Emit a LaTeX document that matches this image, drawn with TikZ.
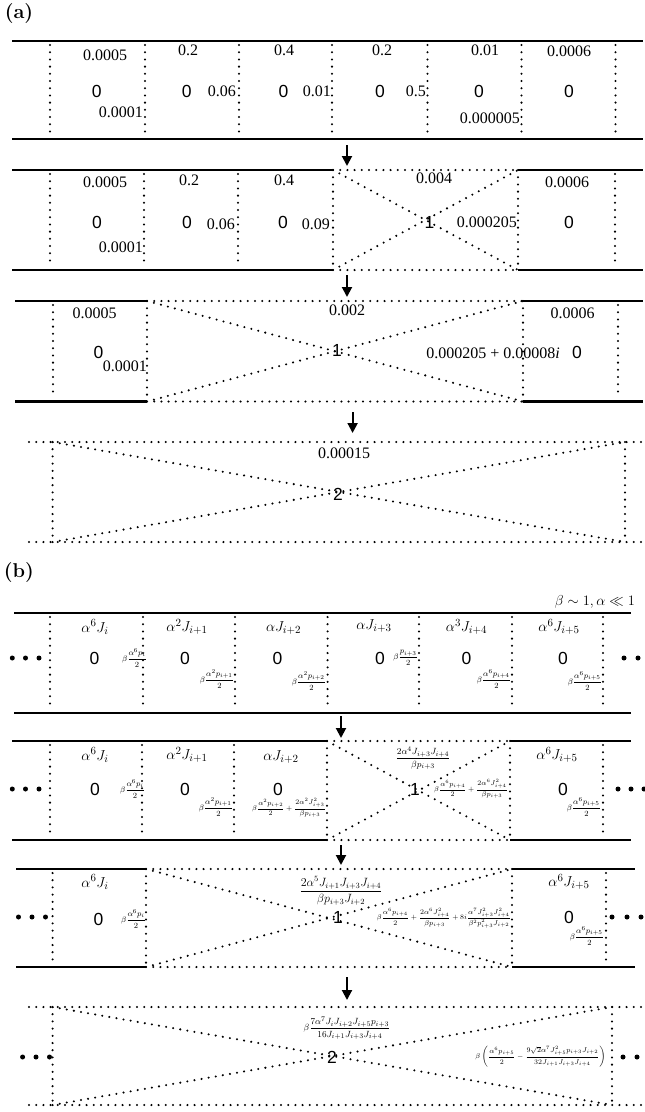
\documentclass[tikz,border=0pt]{standalone}
\usepackage{amsmath,amssymb}
\usepackage{fontspec}
\newfontfamily\tnr{Liberation Serif}
\newfontfamily\hv{Liberation Sans}
\usetikzlibrary{arrows.meta}
\newcommand{\btf}[1]{$\displaystyle\beta\frac{#1}{2}$}
\tikzset{
  thk/.style={line width=2.8pt},
  dotl/.style={line width=2.3pt, dash pattern=on 0pt off 7.2pt, line cap=round},
  num/.style={font=\tnr\fontsize{16}{18}\selectfont, inner sep=0pt},
  big/.style={font=\hv\fontsize{17.5}{19}\selectfont, inner sep=0pt},
  lab/.style={font=\fontsize{15.5}{18}\selectfont, inner sep=0pt},
  sm/.style={font=\fontsize{7}{8}\selectfont, inner sep=0pt},
  smb/.style={font=\fontsize{8.2}{9}\selectfont, inner sep=0pt},
  md/.style={font=\fontsize{9.5}{11}\selectfont, inner sep=0pt},
  lg/.style={font=\fontsize{12}{14}\selectfont, inner sep=0pt},
  arr/.style={line width=2pt, -{Triangle[length=10pt,width=10pt]}},
  ttl/.style={font=\fontsize{20}{22}\selectfont\bfseries, inner sep=0pt},
  dotc/.style={fill=black},
}
\begin{document}
\begin{tikzpicture}[x=1pt,y=-1pt]
\useasboundingbox (0,0) rectangle (645,1112);
\node[ttl] (la) at (19,14) {(a)};
% ---------- row a1
\draw[thk] (12,41) -- (643,41);
\draw[thk] (12,139) -- (643,139);
\foreach \x in {50,145,239,332,427.5,521.5,615.5} \draw[dotl] (\x,45) -- (\x,136);
\node[num] (a1t1) at (105,55) {0.0005};
\node[num] (a1t2) at (188,50) {0.2};
\node[num] (a1t3) at (284,50) {0.4};
\node[num] (a1t4) at (382,50) {0.2};
\node[num] (a1t5) at (485,50) {0.01};
\node[num] (a1t6) at (569,51) {0.0006};
\foreach \x [count=\k] in {96.7,186.7,283.6,380,479,569} \node[big] (a1z\k) at (\x,91) {0};
\node[num,anchor=east] (a1r1) at (236,91) {0.06};
\node[num,anchor=east] (a1r2) at (331,91) {0.01};
\node[num,anchor=east] (a1r3) at (426,91) {0.5};
\node[num,anchor=east] (a1b1) at (143,112) {0.0001};
\node[num,anchor=east] (a1b2) at (520,118) {0.000005};
\coordinate (ar1s) at (347,145); \coordinate (ar1e) at (347,166);
\draw[arr] (ar1s) -- (ar1e);
% ---------- row a2
\draw[thk] (12,170) -- (333,170); \draw[dotl] (333,170) -- (518,170); \draw[thk] (518,170) -- (643,170);
\draw[thk] (12,270) -- (333,270); \draw[dotl] (333,270) -- (518,270); \draw[thk] (518,270) -- (643,270);
\foreach \x in {50,144,238,615} \draw[dotl] (\x,174) -- (\x,266);
\draw[dotl] (333,170) -- (333,270); \draw[dotl] (518,170) -- (518,270);
\draw[dotl] (333,170) -- (518,270); \draw[dotl] (333,270) -- (518,170);
\node[num] (a2t1) at (105,182) {0.0005};
\node[num] (a2t2) at (189,180) {0.2};
\node[num] (a2t3) at (284,180) {0.4};
\node[num] (a2t4) at (434,178) {0.004};
\node[num] (a2t5) at (567,182) {0.0006};
\foreach \x [count=\k] in {97,187,283,569} \node[big] (a2z\k) at (\x,222) {0};
\node[big] (a2one) at (429.5,222) {1};
\node[num,anchor=east] (a2r1) at (235,224) {0.06};
\node[num,anchor=east] (a2r2) at (330,224) {0.09};
\node[num,anchor=east] (a2r3) at (517,222) {0.000205};
\node[num,anchor=east] (a2b1) at (143,247) {0.0001};
\coordinate (ar2s) at (347,275); \coordinate (ar2e) at (347,297);
\draw[arr] (ar2s) -- (ar2e);
% ---------- row a3
\draw[thk] (15,301) -- (147,301); \draw[dotl] (147,301) -- (523,301); \draw[thk] (523,301) -- (643,301);
\draw[thk] (15,401.5) -- (147,401.5); \draw[dotl] (147,401.5) -- (523,401.5); \draw[thk] (523,401.5) -- (643,401.5);
\foreach \x in {53,618} \draw[dotl] (\x,305) -- (\x,398);
\draw[dotl] (147,301) -- (147,401.5); \draw[dotl] (523,301) -- (523,401.5);
\draw[dotl] (147,301) -- (523,401.5); \draw[dotl] (147,401.5) -- (523,301);
\node[num] (a3t1) at (94.5,313) {0.0005};
\node[num] (a3t2) at (347,310) {0.002};
\node[num] (a3t3) at (572.5,313) {0.0006};
\node[big] (a3z1) at (98.6,352) {0};
\node[big] (a3z2) at (577,352) {0};
\node[big] (a3one) at (337,350) {1};
\node[num,anchor=east] (a3b1) at (147,366) {0.0001};
\node[num] (a3r) at (493,353) {0.000205 + 0.00008\textit{i}};
\coordinate (ar3s) at (352.6,412); \coordinate (ar3e) at (352.6,433);
\draw[arr] (ar3s) -- (ar3e);
% ---------- row a4
\draw[dotl] (29,442) -- (645,442); \draw[dotl] (29,542) -- (645,542);
\draw[dotl] (52.6,442) -- (52.6,542); \draw[dotl] (625,442) -- (625,542);
\draw[dotl] (52.6,442) -- (625,542); \draw[dotl] (52.6,542) -- (625,442);
\node[num] (a4t) at (344,453) {0.00015};
\node[big] (a4two) at (338,494) {2};
% ================= panel b
\node[ttl] (lb) at (19,573) {(b)};
\node[lab,anchor=east] (hdr) at (635,602) {$\beta\sim1,\alpha\ll1$};
% ---------- row b1
\draw[thk] (14,613) -- (631,613);
\draw[thk] (14,713) -- (631,713);
\foreach \x in {50,143,235,327.6,419,512,603} \draw[dotl] (\x,617) -- (\x,709);
\node[lab] (b1l1) at (95,627) {$\alpha^6J_i$};
\node[lab] (b1l2) at (187,627) {$\alpha^2J_{i+1}$};
\node[lab] (b1l3) at (283.6,628) {$\alpha J_{i+2}$};
\node[lab] (b1l4) at (374,626) {$\alpha J_{i+3}$};
\node[lab] (b1l5) at (466.5,627) {$\alpha^3J_{i+4}$};
\node[lab] (b1l6) at (559,627) {$\alpha^6J_{i+5}$};
\foreach \x [count=\k] in {94.5,185,277.4,380,466.5,563} \node[big] (b1z\k) at (\x,658) {0};
\node[smb,anchor=east] (b1f1) at (147,658) {\btf{\alpha^6p_i}};
\node[smb,anchor=east] (b1f4) at (418,658) {\btf{p_{i+3}}};
\node[smb,anchor=east] (b1f2) at (234,679) {\btf{\alpha^2p_{i+1}}};
\node[smb,anchor=east] (b1f3) at (326,681) {\btf{\alpha^2p_{i+2}}};
\node[smb,anchor=east] (b1f5) at (511,679) {\btf{\alpha^6p_{i+4}}};
\node[smb,anchor=east] (b1f6) at (602,681) {\btf{\alpha^6p_{i+5}}};
\foreach \x in {12.3,25.5,39,624,638,652} \fill[dotc] (\x,658) circle (2.5pt);
\coordinate (br1s) at (341,716); \coordinate (br1e) at (341,738);
\draw[arr] (br1s) -- (br1e);
% ---------- row b2
\draw[thk] (12,741) -- (327,741); \draw[dotl] (327,741) -- (510,741); \draw[thk] (510,741) -- (631,741);
\draw[thk] (12,840) -- (327,840); \draw[dotl] (327,840) -- (510,840); \draw[thk] (510,840) -- (631,840);
\foreach \x in {50,142,234,603} \draw[dotl] (\x,745) -- (\x,836);
\draw[dotl] (327,741) -- (327,840); \draw[dotl] (510,741) -- (510,840);
\draw[dotl] (327,741) -- (510,840); \draw[dotl] (327,840) -- (510,741);
\node[lab] (b2l1) at (95,755) {$\alpha^6J_i$};
\node[lab] (b2l2) at (187,755) {$\alpha^2J_{i+1}$};
\node[lab] (b2l3) at (281,757) {$\alpha J_{i+2}$};
\node[lab] (b2l4) at (557,755) {$\alpha^6J_{i+5}$};
\node[md] (b2top) at (423,758) {$\dfrac{2\alpha^4J_{i+3}J_{i+4}}{\beta p_{i+3}}$};
\foreach \x [count=\k] in {95,185,278,563} \node[big] (b2z\k) at (\x,789) {0};
\node[big] (b2one) at (415,789) {1};
\node[smb,anchor=east] (b2f1) at (145,789) {\btf{\alpha^6p_i}};
\node[smb,anchor=east] (b2f2) at (233,807) {\btf{\alpha^2p_{i+1}}};
\node[sm,anchor=east] (b2f3) at (326,808) {$\displaystyle\beta\frac{\alpha^2p_{i+2}}{2}+\frac{2\alpha^2J^2_{i+3}}{\beta p_{i+3}}$};
\node[sm,anchor=east] (b2f4) at (508,789) {$\displaystyle\beta\frac{\alpha^6p_{i+4}}{2}+\frac{2\alpha^6J^2_{i+4}}{\beta p_{i+3}}$};
\node[smb,anchor=east] (b2f5) at (601,807) {\btf{\alpha^6p_{i+5}}};
\foreach \x in {12.3,25.5,39,618,631,644} \fill[dotc] (\x,789) circle (2.5pt);
\coordinate (br2s) at (341,845); \coordinate (br2e) at (341,865);
\draw[arr] (br2s) -- (br2e);
% ---------- row b3
\draw[thk] (16,869) -- (146,869); \draw[dotl] (146,869) -- (512,869); \draw[thk] (512,869) -- (635,869);
\draw[thk] (16,967) -- (146,967); \draw[dotl] (146,967) -- (512,967); \draw[thk] (512,967) -- (635,967);
\foreach \x in {52.6,606} \draw[dotl] (\x,873) -- (\x,963);
\draw[dotl] (146,869) -- (146,967); \draw[dotl] (512,869) -- (512,967);
\draw[dotl] (146,869) -- (512,967); \draw[dotl] (146,967) -- (512,869);
\node[lab] (b3l1) at (95,882) {$\alpha^6J_i$};
\node[lab] (b3l2) at (569,882) {$\alpha^6J_{i+5}$};
\node[lg] (b3top) at (341,891) {$\dfrac{2\alpha^5J_{i+1}J_{i+3}J_{i+4}}{\beta p_{i+3}J_{i+2}}$};
\node[big] (b3z1) at (98.6,919) {0};
\node[big] (b3z2) at (569,917) {0};
\node[big] (b3one) at (338,917) {1};
\node[smb,anchor=east] (b3f1) at (146,919) {\btf{\alpha^6p_i}};
\node[sm,anchor=east] (b3f2) at (511,918) {$\displaystyle\beta\frac{\alpha^6p_{i+4}}{2}+\frac{2\alpha^6J^2_{i+4}}{\beta p_{i+3}}+8i\frac{\alpha^7J^2_{i+3}J^2_{i+4}}{\beta^2p^2_{i+3}J_{i+2}}$};
\node[smb,anchor=east] (b3f3) at (604,936) {\btf{\alpha^6p_{i+5}}};
\foreach \x in {18.5,32,45.5,612,627,641} \fill[dotc] (\x,917) circle (2.5pt);
\coordinate (br3s) at (347,977); \coordinate (br3e) at (347,1000);
\draw[arr] (br3s) -- (br3e);
% ---------- row b4
\draw[dotl] (29,1007) -- (645,1007); \draw[dotl] (29,1105) -- (645,1105);
\draw[dotl] (52.6,1007) -- (52.6,1105); \draw[dotl] (612,1007) -- (612,1105);
\draw[dotl] (52.6,1007) -- (612,1105); \draw[dotl] (52.6,1105) -- (612,1007);
\node[md] (b4top) at (347,1028) {$\displaystyle\beta\frac{7\alpha^7J_iJ_{i+2}J_{i+5}p_{i+3}}{16J_{i+1}J_{i+3}J_{i+4}}$};
\node[big] (b4two) at (332,1057) {2};
\node[sm,anchor=east] (b4f) at (606,1057) {$\displaystyle\beta\left(\frac{\alpha^6p_{i+5}}{2}-\frac{9\sqrt{2}\alpha^7J^2_{i+5}p_{i+3}J_{i+2}}{32J_{i+1}J_{i+3}J_{i+4}}\right)$};
\foreach \x in {22.6,36,49.5,623,637,651} \fill[dotc] (\x,1057) circle (2.5pt);
\end{tikzpicture}
\end{document}
